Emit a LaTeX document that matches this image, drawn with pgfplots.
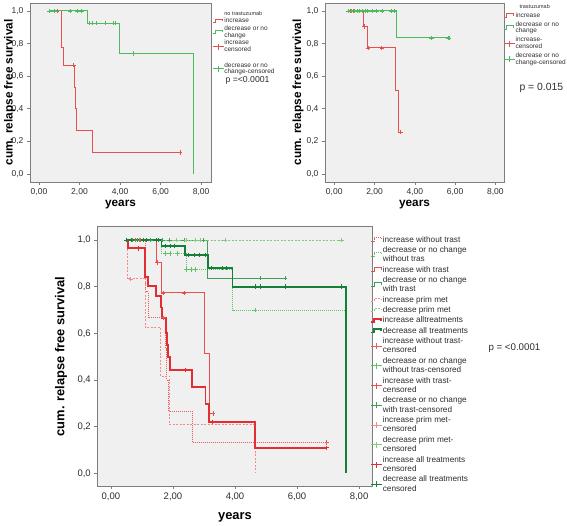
\documentclass[border=0pt]{standalone}
\usepackage{pgfplots}
\pgfplotsset{compat=1.18}
\usepackage{fontspec}
\setmainfont{Liberation Sans}
\definecolor{bgG}{RGB}{240,240,240}
\definecolor{frameG}{RGB}{125,125,125}
\definecolor{txtG}{RGB}{45,45,45}
\definecolor{rThin}{RGB}{232,80,80}
\definecolor{gThin}{RGB}{80,185,95}
\definecolor{rThick}{RGB}{228,45,50}
\definecolor{gThick}{RGB}{20,128,55}
\definecolor{rDot}{RGB}{228,95,95}
\definecolor{rDash}{RGB}{238,140,140}
\definecolor{gDot}{RGB}{95,195,100}
\definecolor{gDash}{RGB}{125,205,125}
\definecolor{gMid}{RGB}{60,160,85}
\pgfplotsset{
  kmstep/.style={legend image code/.code={\draw[##1] (0pt,-1.5pt) -- (3pt,-1.5pt) -- (3pt,2pt) -- (10pt,2pt) -- (10pt,0pt);}},
  kmcens/.style={only marks, mark=+, mark size=2.2pt, mark options={solid, line width=0.7pt}, color=#1,
    legend image code/.code={\draw[#1, line width=0.7pt] (0pt,0pt) -- (11pt,0pt) (5.5pt,-3pt) -- (5.5pt,3pt);}},
  km/.style={scale only axis, axis background/.style={fill=bgG},
    axis line style={frameG, line width=0.8pt},
    tick align=outside, xtick pos=bottom, ytick pos=left, major tick length=3pt,
    tick style={frameG, line width=0.6pt},
    xtick={0,2,4,6,8}, xticklabels={{0,00},{2,00},{4,00},{6,00},{8,00}},
    ytick={0,0.2,0.4,0.6,0.8,1}, yticklabels={{0,0},{0,2},{0,4},{0,6},{0,8},{1,0}},
    ticklabel style={text=txtG},
    ylabel={cum. relapse free survival}, xlabel={years},
    ylabel style={anchor=center}, xlabel style={anchor=center},
    legend cell align=left,
    every axis plot/.append style={kmstep},
    legend style={draw=none, fill=none, anchor=north west, inner sep=0pt,
      nodes={inner sep=0.4pt, align=left, text=txtG},
      /tikz/every even column/.append style={column sep=1.5pt}},
  }
}
\begin{document}
\begin{tikzpicture}
\useasboundingbox (0pt,0pt) rectangle (567pt,525pt);
% ---------------- top left ----------------
\begin{axis}[km, name=tl, at={(30pt,343pt)}, anchor=south west, width=181pt, height=179pt,
  xmin=-0.444, xmax=8.49, ymin=-0.049, ymax=1.049,
  ticklabel style={font=\fontsize{8.5}{10}\selectfont},
  label style={font=\bfseries\fontsize{11.8}{13}\selectfont},
  ylabel style={at={(axis description cs:-0.113,0.5)}},
  xlabel style={at={(axis description cs:0.5,-0.128)}},
  legend style={at={(axis description cs:1.005,0.958)}, font=\fontsize{6.5}{6.8}\selectfont, row sep=0.6pt}]
\addlegendimage{empty legend}\addlegendentry{\fontsize{5.5}{6}\selectfont no trastuzumab}
\addplot[const plot, color=rThin, line width=1pt] coordinates {(0.9,1) (1.12,0.778) (1.2,0.667) (1.77,0.533) (1.8,0.4) (1.87,0.267) (2.62,0.133) (6.96,0.133)};
\addlegendentry{increase}
\addplot[const plot, color=gThin, line width=1pt] coordinates {(0.5,1) (2.4,0.925) (3.95,0.74) (7.62,0)};
\addlegendentry{decrease or no\\change}
\addplot[kmcens=rThin] coordinates {(0.9,1) (1.7,0.667) (6.96,0.133)};
\addlegendentry{increase\\censored}
\addlegendimage{empty legend}\addlegendentry{\rule{0pt}{5pt}}
\addplot[kmcens=gThin] coordinates {(0.51,1) (0.76,1) (1.53,1) (1.89,1) (2.09,1) (2.49,0.925) (2.65,0.925) (2.85,0.925) (3.26,0.925) (3.67,0.925) (3.75,0.925) (4.66,0.74)};
\addlegendentry{decrease or no\\change-censored}
\end{axis}
\node[anchor=west, text=txtG, font=\fontsize{8.7}{10}\selectfont] at ([xshift=11pt,yshift=-77pt]tl.north east) {p =<0.0001};
% ---------------- top right ----------------
\begin{axis}[km, name=tr, at={(325pt,343pt)}, anchor=south west, width=179pt, height=179pt,
  xmin=-0.46, xmax=8.43, ymin=-0.049, ymax=1.049,
  ticklabel style={font=\fontsize{8.5}{10}\selectfont},
  label style={font=\bfseries\fontsize{11.8}{13}\selectfont},
  ylabel style={at={(axis description cs:-0.15,0.5)}},
  xlabel style={at={(axis description cs:0.5,-0.128)}},
  legend style={at={(axis description cs:0.995,0.995)}, font=\fontsize{6.5}{6.8}\selectfont, row sep=1.8pt}]
\addlegendimage{empty legend}\addlegendentry{\fontsize{5.5}{6}\selectfont\hspace{4pt}trastuzumab\rule[-10pt]{0pt}{10pt}}
\addplot[const plot, color=rThin, line width=1pt] coordinates {(0.78,1) (1.46,0.904) (1.64,0.773) (3.02,0.515) (3.18,0.257) (3.3,0.257)};
\addlegendentry{increase}
\addplot[const plot, color=gThin, line width=1pt] coordinates {(0.69,1) (3.1,0.835) (5.7,0.835)};
\addlegendentry{decrease or no\\change}
\addplot[kmcens=rThin] coordinates {(0.78,1) (0.95,1) (1.5,0.904) (1.68,0.773) (2.36,0.773) (3.3,0.257)};
\addlegendentry{increase-\\censored}
\addplot[kmcens=gThin] coordinates {(0.69,1) (0.86,1) (1.02,1) (1.15,1) (1.27,1) (1.38,1) (1.52,1) (1.65,1) (1.88,1) (2.1,1) (2.38,1) (2.84,1) (2.97,1) (4.83,0.835) (5.65,0.835) (5.7,0.835)};
\addlegendentry{decrease or no\\change-censored}
\end{axis}
\node[anchor=west, text=txtG, font=\fontsize{10.4}{12}\selectfont] at ([xshift=12pt,yshift=-85pt]tr.north east) {p = 0.015};
% ---------------- bottom ----------------
\begin{axis}[km, name=bt, at={(97.3pt,39pt)}, anchor=south west, width=275.4pt, height=259.3pt,
  xmin=-0.44, xmax=8.44, ymin=-0.054, ymax=1.057,
  ticklabel style={font=\fontsize{9.5}{11}\selectfont},
  label style={font=\bfseries\fontsize{12.9}{14}\selectfont},
  ylabel style={at={(axis description cs:-0.132,0.5)}},
  xlabel style={at={(axis description cs:0.5,-0.12)}},
  legend style={at={(axis description cs:0.99,0.966)}, font=\fontsize{8.2}{9.4}\selectfont, row sep=2.1pt,
    /tikz/every even column/.append style={column sep=3pt}}]
% lines
\addplot[const plot, color=rDot, line width=1pt, densely dotted] coordinates {(0.9,1) (1.12,0.778) (1.2,0.667) (1.77,0.533) (1.8,0.4) (1.87,0.267) (2.62,0.133) (6.96,0.133)};
\addlegendentry{increase without trast}
\addplot[const plot, color=gDot, line width=1pt, densely dotted] coordinates {(0.5,1) (1.63,0.943) (2.42,0.874) (3.92,0.70) (7.58,0.70)};
\addlegendentry{decrease or no change\\without tras}
\addplot[const plot, color=rThin, line width=1pt] coordinates {(0.78,1) (1.46,0.904) (1.64,0.773) (3.02,0.515) (3.18,0.257) (3.3,0.257)};
\addlegendentry{increase with trast}
\addplot[const plot, color=gMid, line width=1pt] coordinates {(0.69,1) (3.12,0.836) (5.65,0.836)};
\addlegendentry{decrease or no change\\with trast}
\addplot[const plot, color=rDash, line width=1pt, dash pattern=on 2pt off 1.5pt] coordinates {(0.5,1) (0.54,0.833) (1.1,0.625) (1.61,0.417) (1.9,0.208) (4.65,0)};
\addlegendentry{increase prim met}
\addplot[const plot, color=gDash, line width=1pt, dash pattern=on 2pt off 1.5pt] coordinates {(1.63,1) (7.44,1)};
\addlegendentry{decrease prim met}
\addplot[const plot, color=rThick, line width=1.9pt] coordinates {(0.5,1) (0.54,0.964) (1.1,0.843) (1.2,0.803) (1.45,0.76) (1.61,0.711) (1.65,0.667) (1.77,0.6) (1.82,0.55) (1.84,0.5) (1.9,0.443) (2.6,0.371) (3.05,0.297) (3.16,0.221) (4.65,0.11) (6.96,0.11)};
\addlegendentry{increase alltreatments}
\addplot[const plot, color=gThick, line width=1.9pt] coordinates {(0.5,1) (1.63,0.974) (2.39,0.936) (3.12,0.879) (3.92,0.80) (7.58,0)};
\addlegendentry{decrease all treatments}
% censored
\addplot[kmcens=rDot] coordinates {(0.9,1) (1.7,0.667) (6.96,0.133)};
\addlegendentry{increase without trast-\\censored}
\addplot[kmcens=gDot] coordinates {(1.74,0.943) (1.9,0.943) (2.13,0.943) (2.44,0.874) (2.6,0.874) (2.71,0.874) (4.65,0.70)};
\addlegendentry{decrease or no change\\without tras-censored}
\addplot[kmcens=rThin] coordinates {(0.78,1) (0.95,1) (1.5,0.904) (1.68,0.773) (2.36,0.773) (3.3,0.257)};
\addlegendentry{increase with trast-\\censored}
\addplot[kmcens=gMid] coordinates {(0.69,1) (0.86,1) (1.27,1) (1.65,1) (1.88,1) (2.38,1) (2.97,1) (4.83,0.836) (5.61,0.836)};
\addlegendentry{decrease or no change\\with trast-censored}
\addplot[kmcens=rDash] coordinates {(0.64,0.833)};
\addlegendentry{increase prim met-\\censored}
\addplot[kmcens=gDash] coordinates {(2.12,1) (2.44,1) (2.71,1) (2.87,1) (3.68,1) (7.44,1)};
\addlegendentry{decrease prim met-\\censored}
\addplot[kmcens=rThick] coordinates {(0.88,0.964) (2.39,0.443) (3.27,0.221) (6.96,0.11)};
\addlegendentry{increase all treatments\\censored}
\addplot[kmcens=gThick] coordinates {(0.5,1) (0.67,1) (1.04,1) (1.15,1) (1.47,1) (1.53,1) (1.74,0.974) (1.9,0.974) (2.06,0.974) (2.48,0.936) (2.7,0.936) (2.85,0.936) (3.03,0.936) (3.25,0.879) (3.6,0.879) (3.73,0.879) (4.65,0.80) (4.83,0.80) (5.61,0.80) (7.44,0.80)};
\addlegendentry{decrease all treatments\\censored}
\end{axis}
\node[anchor=west, text=txtG, font=\fontsize{9.7}{11}\selectfont] at ([xshift=112.3pt,yshift=-121.3pt]bt.north east) {p = <0.0001};
\end{tikzpicture}
\end{document}
